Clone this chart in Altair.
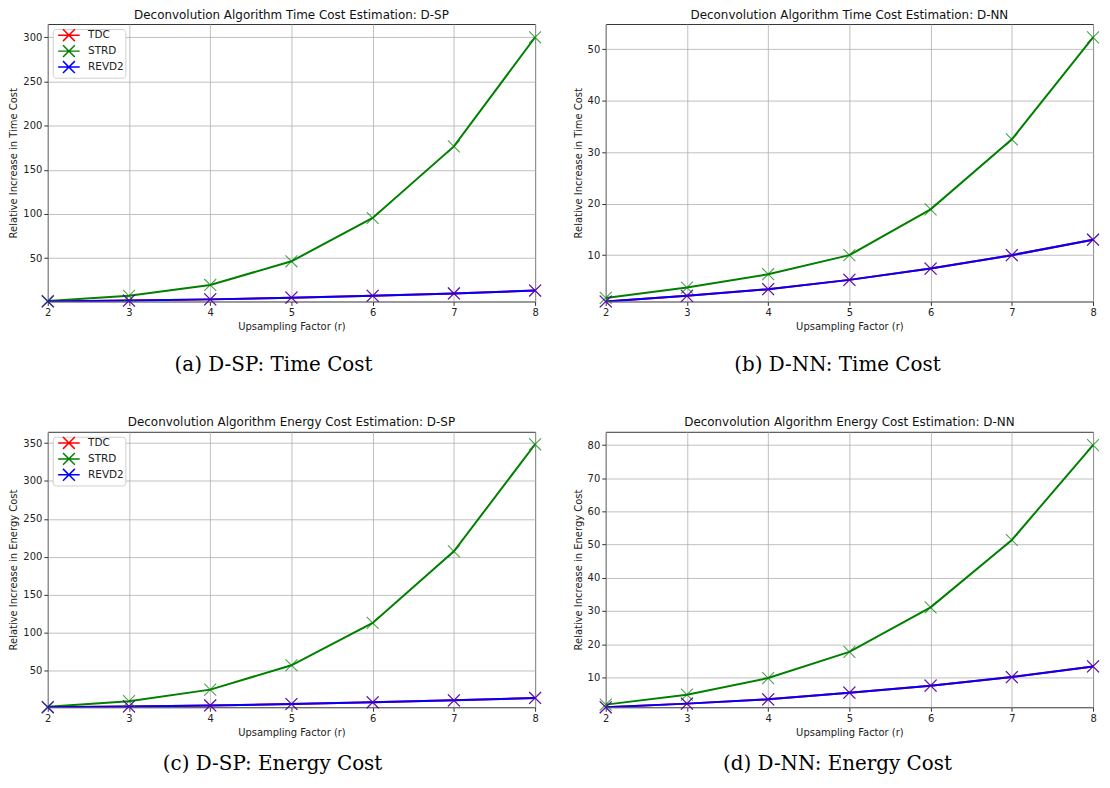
import altair as alt
import pandas as pd

r = [2, 3, 4, 5, 6, 7, 8]
series_names = ["TDC", "STRD", "REVD2"]
series_colors = ["#ff0000", "#008000", "#0000ff"]

# (a) D-SP time cost
sp_time_tdc = [1.0, 2.0, 3.4, 5.3, 7.5, 10.1, 13.4]
sp_time_strd = [1.6, 7.4, 19.7, 46.5, 95.5, 176.5, 300.0]
sp_time_revd2 = [1.0, 2.0, 3.4, 5.3, 7.5, 10.1, 13.4]
# (b) D-NN time cost
nn_time_tdc = [1.0, 2.1, 3.4, 5.2, 7.4, 10.0, 13.0]
nn_time_strd = [1.7, 3.7, 6.3, 10.0, 18.9, 32.5, 52.3]
nn_time_revd2 = [1.0, 2.1, 3.4, 5.2, 7.4, 10.0, 13.0]
# (c) D-SP energy cost
sp_energy_tdc = [1.0, 2.1, 3.4, 5.3, 7.6, 10.2, 13.3]
sp_energy_strd = [1.7, 9.1, 24.3, 56.5, 112.5, 207.0, 348.5]
sp_energy_revd2 = [1.0, 2.1, 3.4, 5.3, 7.6, 10.2, 13.3]
# (d) D-NN energy cost
nn_energy_tdc = [1.0, 2.1, 3.4, 5.4, 7.5, 10.1, 13.3]
nn_energy_strd = [1.8, 4.8, 9.8, 17.7, 31.1, 51.4, 80.0]
nn_energy_revd2 = [1.0, 2.1, 3.4, 5.4, 7.5, 10.1, 13.3]

XPATH = "M-1,-1L1,1M-1,1L1,-1"
LEGEND_PATH = "M-3.1,0L3.1,0M-1.7,-1.7L1.7,1.7M-1.7,1.7L1.7,-1.7"


def panel(title, ytitle, tdc, strd, revd2, ymax, yticks, caption, W, H, capdx, capdy):
    rows = []
    for name, vals in zip(series_names, [tdc, strd, revd2]):
        for xi, v in zip(r, vals):
            rows.append({"r": xi, "v": v, "series": name})
    df = pd.DataFrame(rows)
    x = alt.X("r:Q", scale=alt.Scale(domain=[2, 8], nice=False),
              axis=alt.Axis(values=r, format="d", title="Upsampling Factor (r)"))
    y = alt.Y("v:Q", scale=alt.Scale(domain=[1, ymax], nice=False, zero=False),
              axis=alt.Axis(values=yticks, title=ytitle))
    color = alt.Color("series:N", sort=series_names,
                      scale=alt.Scale(domain=series_names, range=series_colors),
                      legend=alt.Legend(title=None, orient="top-left", offset=5,
                                        symbolType=LEGEND_PATH, symbolSize=49,
                                        symbolStrokeWidth=1.5, symbolOffset=10,
                                        labelOffset=14,
                                        fillColor="white", strokeColor="#d0d0d0",
                                        cornerRadius=3, padding=1, rowPadding=-3,
                                        labelFontSize=10.5, labelFont="DejaVu Sans",
                                        labelColor="#222"))
    base = alt.Chart(df)
    lines = base.mark_line(strokeWidth=2, clip=True).encode(x=x, y=y, color=color)
    pts = base.mark_point(shape=XPATH, size=144, filled=False, strokeWidth=1.1,
                          opacity=0.7, clip=False).encode(
        x=x, y=y, color=alt.Color("series:N", sort=series_names,
                                  scale=alt.Scale(domain=series_names, range=series_colors),
                                  legend=None))
    cap = alt.Chart(pd.DataFrame({"t": [caption]})).mark_text(
        font="DejaVu Serif", fontSize=20, color="black", baseline="middle", align="center"
    ).encode(text="t:N", x=alt.value(W / 2 + capdx), y=alt.value(H + capdy))
    return alt.layer(lines, pts, cap).properties(
        width=W, height=H,
        title=alt.TitleParams(title, fontSize=12, fontWeight="normal",
                              font="DejaVu Sans", offset=2.5, color="#111"))


a = panel("Deconvolution Algorithm Time Cost Estimation: D-SP",
          "Relative Increase in Time Cost", sp_time_tdc, sp_time_strd, sp_time_revd2,
          315, [50, 100, 150, 200, 250, 300], "(a) D-SP: Time Cost", 490, 279, -18, 64)
b = panel("Deconvolution Algorithm Time Cost Estimation: D-NN",
          "Relative Increase in Time Cost", nn_time_tdc, nn_time_strd, nn_time_revd2,
          54.9, [10, 20, 30, 40, 50], "(b) D-NN: Time Cost", 490, 279, -12, 64)
c = panel("Deconvolution Algorithm Energy Cost Estimation: D-SP",
          "Relative Increase in Energy Cost", sp_energy_tdc, sp_energy_strd, sp_energy_revd2,
          365, [50, 100, 150, 200, 250, 300, 350], "(c) D-SP: Energy Cost", 490, 277, -19, 57)
d = panel("Deconvolution Algorithm Energy Cost Estimation: D-NN",
          "Relative Increase in Energy Cost", nn_energy_tdc, nn_energy_strd, nn_energy_revd2,
          84, [10, 20, 30, 40, 50, 60, 70, 80], "(d) D-NN: Energy Cost", 490, 277, -12, 57)

row1 = alt.hconcat(a, b, spacing=28)
row2 = alt.hconcat(c, d, spacing=28)
chart = alt.vconcat(row1, row2, spacing=40,
                    padding={"left": 0, "top": -2, "right": 0, "bottom": 0}
                    ).resolve_scale(color="independent").configure(
    background="white").configure_view(
    stroke="#333333", strokeWidth=1
).configure_axis(
    labelFont="DejaVu Sans", titleFont="DejaVu Sans", labelFontSize=10, titleFontSize=10,
    titleFontWeight="normal", labelColor="#222", titleColor="#222",
    gridColor="#b0b0b0", gridWidth=0.8, domain=False, tickColor="#333",
    tickSize=4, labelPadding=2, titlePadding=4
).configure_axisX(labelFlush=False)

chart.save("out.html", embed_options={"renderer": "svg", "actions": False})
